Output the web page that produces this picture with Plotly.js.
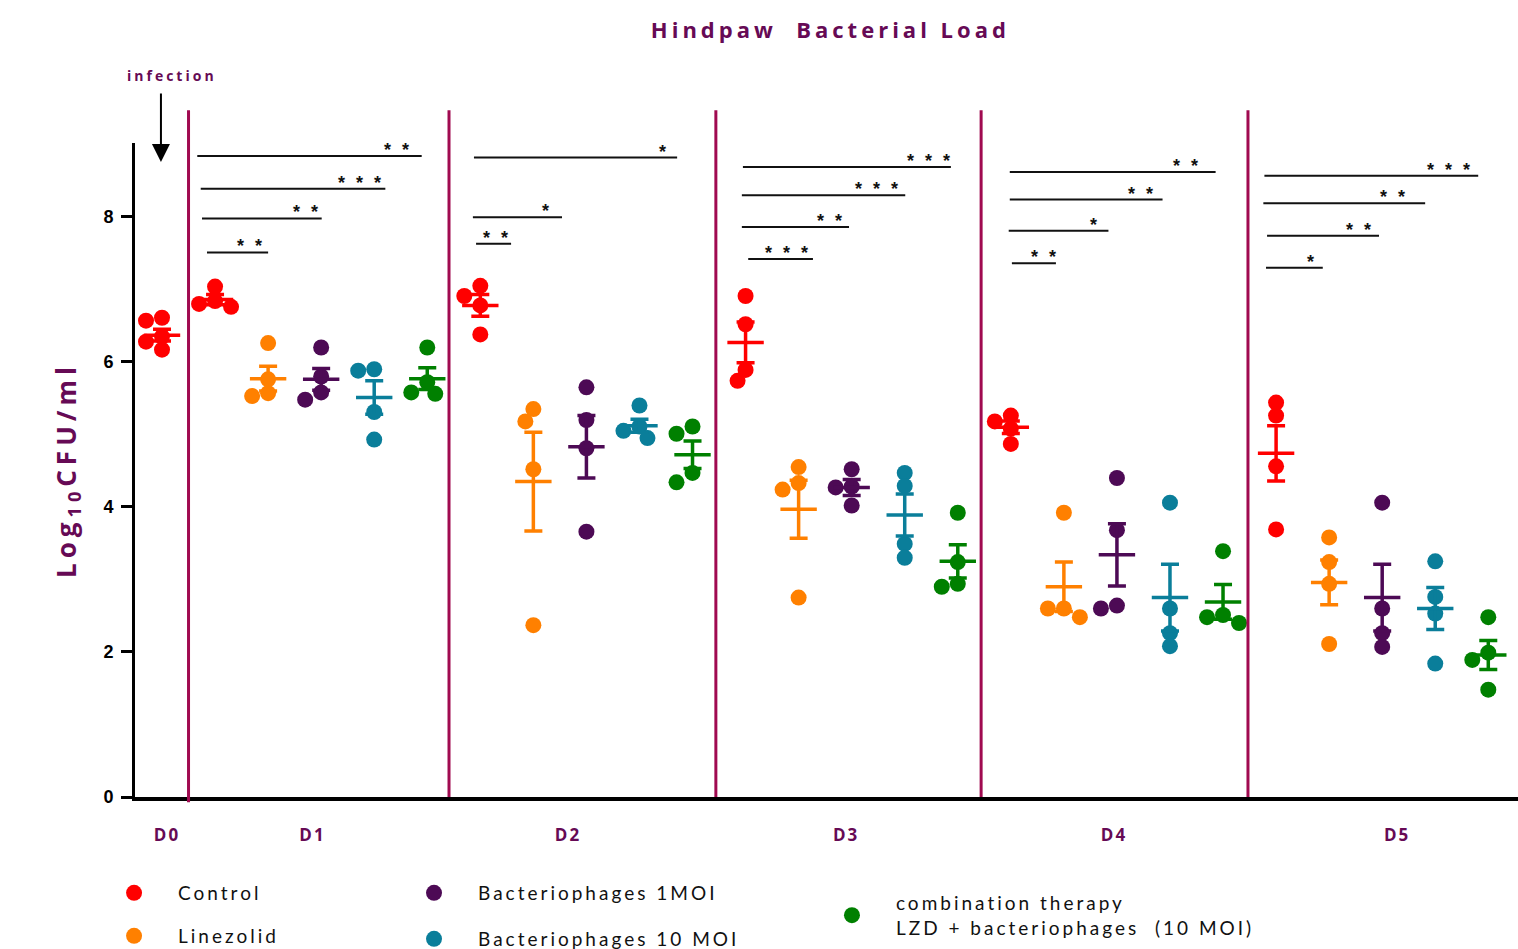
<!DOCTYPE html>
<html><head><meta charset="utf-8">
<script src="https://cdn.plot.ly/plotly-3.0.1.min.js"></script>
<style>
body{margin:0;background:#fff}
#chart{width:1518px;height:949px}
.gtitle{letter-spacing:4px}
.ytitle{letter-spacing:5px}
.infolayer g[class*="legend"] text{letter-spacing:3px}
.legendtext{letter-spacing:3px}
.xtick text{letter-spacing:2px}
.annotation-text{letter-spacing:3px}
</style></head><body><div id="chart"></div>
<script>
// ---------- data ----------
const days = ['D0','D1','D2','D3','D4','D5'];
const groupNames = ['Control','Linezolid','Bacteriophages 1MOI','Bacteriophages 10 MOI',
  'combination therapy<br>LZD + bacteriophages  (10 MOI)'];
const groupColors = ['#FF0000','#FF8000','#4D0A55','#0A7E9A','#008000'];

// Control: D0..D5
const controlVals = [[6.61,6.57,6.35,6.28,6.17],[7.04,6.84,6.80,6.76],[7.05,6.91,6.78,6.38],
  [6.91,6.52,5.89,5.74],[5.26,5.18,5.08,4.87],[5.44,5.26,4.56,3.69]];
const controlMean = [6.37,6.86,6.78,6.27,5.10,4.74];
const controlSem  = [0.08,0.07,0.15,0.28,0.085,0.38];
// Treatment groups: D1..D5
const linezolidVals = [[6.26,5.76,5.57,5.53],[5.35,5.18,4.52,2.37],[4.55,4.33,4.24,2.75],
  [3.92,2.60,2.60,2.48],[3.58,3.24,2.94,2.11]];
const linezolidMean = [5.77,4.35,3.97,2.90,2.96];
const linezolidSem  = [0.17,0.68,0.40,0.34,0.31];
const phage1Vals = [[6.20,5.80,5.58,5.48],[5.65,5.20,4.81,3.66],[4.52,4.28,4.27,4.02],
  [4.40,3.68,2.60,2.64],[4.06,2.60,2.26,2.07]];
const phage1Mean = [5.76,4.83,4.27,3.34,2.75];
const phage1Sem  = [0.15,0.43,0.11,0.43,0.46];
const phage10Vals = [[5.90,5.88,5.31,4.93],[5.40,5.11,5.05,4.95],[4.47,4.29,3.49,3.30],
  [4.06,2.60,2.26,2.08],[3.25,2.76,2.53,1.84]];
const phage10Mean = [5.51,5.12,3.89,2.75,2.60];
const phage10Sem  = [0.23,0.09,0.29,0.46,0.29];
const comboVals = [[6.20,5.72,5.58,5.56],[5.11,5.01,4.47,4.34],[3.92,3.24,2.90,2.94],
  [3.39,2.51,2.48,2.40],[2.48,1.99,1.89,1.48]];
const comboMean = [5.77,4.72,3.25,2.69,1.96];
const comboSem  = [0.15,0.19,0.23,0.24,0.20];

// significance brackets (per day: label of each stacked bracket, top to bottom)
const sigLabels = {
  D1: ['* *','* * *','* *','* *'],
  D2: ['*','*','* *'],
  D3: ['* * *','* * *','* *','* * *'],
  D4: ['* *','* *','*','* *'],
  D5: ['* * *','* *','* *','*']
};

// ---------- layout geometry ----------
const W = 1518, H = 949, ML = 135, MR = 0, MT = 143, MB = 152;
const xRange = [-0.509, 25.56], yRange = [0, 9.02];
const pxX = (W-ML-MR)/(xRange[1]-xRange[0]);
const pxY = (H-MT-MB)/(yRange[1]-yRange[0]);
const pos = (day, g) => day === 0 ? 0 : 1 + (day-1)*5 + g;

// simple beeswarm: spread overlapping dots sideways
function swarm(vals){
  const d = 13, step = 8, placed = [], offs = new Array(vals.length);
  const order = vals.map((v,i)=>i).sort((a,b)=>vals[b]-vals[a]);
  order.forEach(i=>{
    const yp = vals[i]*pxY;
    const cands = [0];
    for (let k=1;k<8;k++){ cands.push(-k*step, k*step); }
    for (const c of cands){
      if (placed.every(p => Math.hypot(p[0]-c, p[1]-yp) >= d)){
        placed.push([c,yp]); offs[i] = c/pxX; break;
      }
    }
  });
  return offs;
}

const groupVals = [controlVals, linezolidVals, phage1Vals, phage10Vals, comboVals];
const groupMeans = [controlMean, linezolidMean, phage1Mean, phage10Mean, comboMean];
const groupSems = [controlSem, linezolidSem, phage1Sem, phage10Sem, comboSem];

const traces = [];
const legendOf = ['legend','legend2','legend3','legend4','legend5'];
groupVals.forEach((gv, g) => {
  const xs = [], ys = [];
  gv.forEach((vals, k) => {
    const day = g === 0 ? k : k+1;
    const offs = swarm(vals);
    vals.forEach((v,i)=>{ xs.push(pos(day,g)+offs[i]); ys.push(v); });
  });
  traces.push({type:'scatter', mode:'markers', x:xs, y:ys, name:groupNames[g],
    legend:legendOf[g], marker:{size:16, color:groupColors[g]}, hoverinfo:'y'});
});
groupMeans.forEach((gm, g) => {
  const xs = gm.map((m,k)=>pos(g===0?k:k+1, g));
  traces.push({type:'scatter', mode:'markers', x:xs, y:gm, showlegend:false, hoverinfo:'y',
    marker:{symbol:'line-ew', size:26, color:groupColors[g], line:{width:3.5, color:groupColors[g]}},
    error_y:{type:'data', array:groupSems[g], symmetric:true, width:9, thickness:3.5, color:groupColors[g]}});
});

// bracket geometry (axis units): x0, x1, level, label x
const sigGeom = {
  D1: [[0.665,4.895,8.84,4.45],[0.73,4.21,8.39,3.76],[0.754,3.01,7.98,2.73],[0.848,2.0,7.51,1.67]],
  D2: [[5.88,9.71,8.82,9.46],[5.86,7.54,7.995,7.26],[5.92,6.58,7.63,6.31]],
  D3: [[10.95,14.87,8.69,14.48],[10.93,14.01,8.30,13.50],[10.93,12.95,7.86,12.61],[11.05,12.27,7.42,11.80]],
  D4: [[15.98,19.86,8.62,19.32],[15.98,18.86,8.24,18.47],[15.96,17.84,7.81,17.59],[16.02,16.85,7.36,16.64]],
  D5: [[20.78,24.81,8.57,24.27],[20.76,23.81,8.19,23.22],[20.83,22.94,7.74,22.58],[20.81,21.88,7.30,21.68]]
};

const shapes = [];
const annotations = [];
const purple = '#660A55';
// day separators
[[0.5,-0.008],[5.41,0],[10.44,0],[15.44,0],[20.47,0]].forEach(([x,y0])=>{
  shapes.push({type:'line', xref:'x', yref:'paper', x0:x, x1:x, y0:y0, y1:1.05,
    line:{color:'#A00A50', width:3}});
});
Object.keys(sigGeom).forEach(dk=>{
  sigGeom[dk].forEach((s,i)=>{
    shapes.push({type:'line', xref:'x', yref:'y', x0:s[0], x1:s[1], y0:s[2], y1:s[2],
      line:{color:'#111', width:2}});
    annotations.push({xref:'x', yref:'y', x:s[3], y:s[2], text:sigLabels[dk][i], showarrow:false,
      xanchor:'center', yanchor:'bottom', yshift:-6,
      font:{family:'Liberation Sans, Arial', size:18, color:'#111', weight:'bold'}});
  });
});
// infection arrow
annotations.push({xref:'x', yref:'paper', x:-0.02, y:(797-162)/654, text:'', showarrow:true,
  ax:0, ay:-70, arrowhead:2, arrowsize:1.8, arrowwidth:2, arrowcolor:'#000'});
annotations.push({xref:'paper', yref:'paper', x:(172-ML)/(W-ML-MR), y:(797-75)/654, text:'infection',
  showarrow:false, xanchor:'center', yanchor:'middle',
  font:{family:'Open Sans', size:14, color:purple, weight:'bold'}});

const legFont = {family:'Lato', size:19, color:'#111'};
const mkLegend = (x, y, w) => ({x:x, y:y, xanchor:'left', yanchor:'top', orientation:'h',
  itemwidth:78, entrywidth:w, entrywidthmode:'pixels', font:legFont, bgcolor:'rgba(0,0,0,0)'});

const layout = {
  width:W, height:H, margin:{l:ML, r:MR, t:MT, b:MB, autoexpand:false},
  paper_bgcolor:'#fff', plot_bgcolor:'#fff',
  title:{text:'Hindpaw  Bacterial Load', x:0.547, xref:'container', y:1-30/949, yanchor:'middle',
    font:{family:'Open Sans', size:22, color:purple, weight:'bold'}},
  xaxis:{range:xRange, showgrid:false, zeroline:false, showline:true, linewidth:4, linecolor:'#000',
    tickvals:[0.094,2.837,7.653,12.894,17.945,23.28], ticktext:days, ticks:'', ticklabelstandoff:20,
    tickfont:{family:'Open Sans', size:17, color:purple, weight:'bold'}},
  yaxis:{range:yRange, showgrid:false, zeroline:false, showline:true, linewidth:3, linecolor:'#000',
    tickvals:[0,2,4,6,8], ticks:'outside', ticklen:11, tickwidth:3, tickcolor:'#000', ticklabelstandoff:4,
    tickfont:{family:'Liberation Sans, Arial', size:18, color:'#000', weight:'bold'},
    title:{text:'Log<sub>10</sub>CFU/ml', standoff:20,
      font:{family:'Open Sans', size:26, color:purple, weight:'bold'}}},
  legend:  mkLegend(-0.0325, -0.1177, 240),
  legend2: mkLegend(-0.0325, -0.1835, 240),
  legend3: mkLegend(0.1844, -0.1177, 360),
  legend4: mkLegend(0.1844, -0.188, 360),
  legend5: mkLegend(0.4866, -0.133, 480),
  shapes:shapes, annotations:annotations, showlegend:true
};
Plotly.newPlot('chart', traces, layout, {displayModeBar:false, staticPlot:true});
</script></body></html>
